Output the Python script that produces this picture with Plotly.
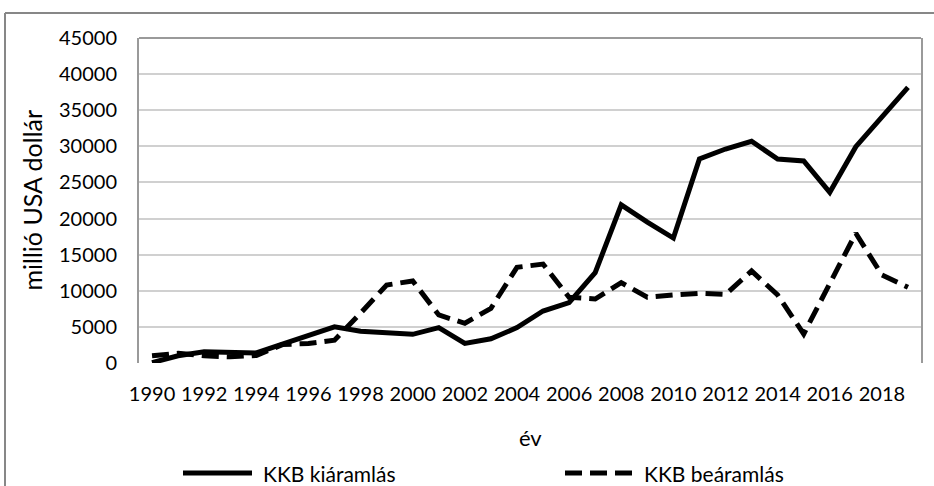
import plotly.graph_objects as go

years = list(range(1990, 2020))
kiaramlas = [50, 1000, 1570, 1400, 1400, 2600, 3800, 5000, 4400, 4250,
             3970, 4900, 2720, 3350, 4900, 7200, 8360, 12500, 21900, 19500,
             17300, 28250, 29630, 30700, 28250, 27970, 23630, 29950, 34100, 38170]
bearamlas = [1000, 1340, 1000, 850, 1050, 2550, 2700, 3150, 6900, 10800,
             11360, 6650, 5500, 7570, 13250, 13700, 9100, 8860, 11120, 9100,
             9420, 9650, 9500, 12740, 9420, 4020, 11000, 17960, 12190, 10480]
xtick_labels = [str(y) for y in range(1990, 2020, 2)]
series_names = ["KKB kiáramlás", "KKB beáramlás"]

W, H = 934, 486
L, R, T, B = 139, 921, 38, 363
FONT = "Lato"
DASH = "17px,8px"


def px(x):
    return (x - L) / (R - L)


def py(y):
    return (B - y) / (B - T)


fig = go.Figure()
fig.add_trace(go.Scatter(x=years, y=kiaramlas, mode="lines", name=series_names[0],
                         line=dict(color="#000000", width=5), showlegend=False))
fig.add_trace(go.Scatter(x=years, y=bearamlas, mode="lines", name=series_names[1],
                         line=dict(color="#000000", width=5, dash=DASH), showlegend=False))

shapes = [
    # outer chart frame (top and left visible)
    dict(type="line", xref="paper", yref="paper", x0=px(5), x1=px(940), y0=py(13), y1=py(13),
         line=dict(color="#878787", width=2)),
    dict(type="line", xref="paper", yref="paper", x0=px(5), x1=px(5), y0=py(13), y1=py(492),
         line=dict(color="#878787", width=2)),
    # plot-area top border
    dict(type="line", xref="paper", yref="paper", x0=0, x1=1, y0=1, y1=1,
         line=dict(color="#9a9a9a", width=2)),
    # legend samples
    dict(type="line", xref="paper", yref="paper", x0=px(183), x1=px(252), y0=py(473), y1=py(473),
         line=dict(color="#000000", width=5)),
    dict(type="line", xref="paper", yref="paper", x0=px(565), x1=px(634), y0=py(473), y1=py(473),
         line=dict(color="#000000", width=5, dash=DASH)),
]

annotations = [
    dict(text=series_names[0], xref="paper", yref="paper", x=px(261), y=py(473),
         xanchor="left", yanchor="middle", showarrow=False,
         font=dict(family=FONT, size=21, color="#000000")),
    dict(text=series_names[1], xref="paper", yref="paper", x=px(642), y=py(473),
         xanchor="left", yanchor="middle", showarrow=False,
         font=dict(family=FONT, size=21, color="#000000")),
    dict(text="év", xref="paper", yref="paper", x=0.5, y=py(437),
         xanchor="center", yanchor="middle", showarrow=False,
         font=dict(family=FONT, size=22, color="#000000")),
    dict(text="millió USA dollár", xref="paper", yref="paper", x=px(31), y=0.5,
         xanchor="center", yanchor="middle", textangle=-90, showarrow=False,
         font=dict(family=FONT, size=25, color="#000000")),
]

fig.update_layout(
    width=W, height=H,
    margin=dict(l=L, r=W - R, t=T, b=H - B, pad=0),
    paper_bgcolor="#ffffff", plot_bgcolor="#ffffff",
    font=dict(family=FONT, size=20, color="#000000"),
    shapes=shapes, annotations=annotations,
    showlegend=False,
)
fig.update_xaxes(
    range=[1989.5, 2019.5], tickvals=list(range(1990, 2020, 2)), ticktext=xtick_labels,
    showgrid=False, zeroline=False, showline=False, ticks="", ticklabelstandoff=17,
    tickfont=dict(family=FONT, size=20, color="#000000"),
)
fig.update_yaxes(
    range=[0, 45000], dtick=5000, tickformat="d",
    showgrid=True, gridcolor="#d0d0d0", gridwidth=1.5, zeroline=False,
    showline=True, linecolor="#9a9a9a", linewidth=2, mirror=True,
    ticks="", ticklabelstandoff=16,
    tickfont=dict(family=FONT, size=20, color="#000000"),
)

fig.write_html(
    "out.html",
    config={"displayModeBar": False},
    post_script="document.body.style.margin='0';document.body.style.overflow='hidden';",
)
